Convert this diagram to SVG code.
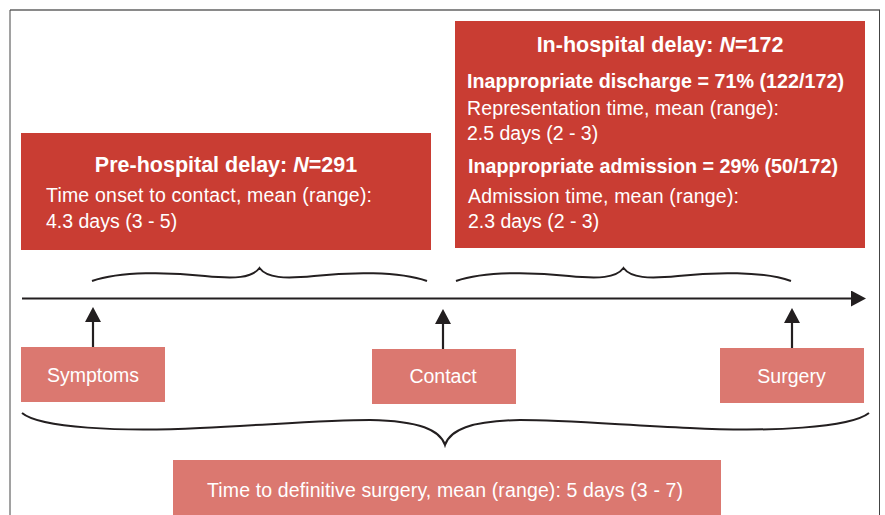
<svg xmlns="http://www.w3.org/2000/svg" width="885" height="515" viewBox="0 0 885 515">
  <defs>
    <style>
      .dark { fill: #C93D33; }
      .light { fill: #DB7870; }
      text { font-family: "Liberation Sans", Arial, sans-serif; fill: #ffffff; }
      .title { font-size: 21.5px; font-weight: bold; text-anchor: middle; }
      .sub { font-size: 19.7px; font-weight: bold; }
      .body { font-size: 19.5px; }
      .lbl { font-size: 19.5px; text-anchor: middle; }
      .brace { fill: none; stroke: #231F20; stroke-width: 2; }
      .line { stroke: #231F20; stroke-width: 2.2; fill: none; }
      .head { fill: #231F20; }
    </style>
    <marker id="arr" markerUnits="userSpaceOnUse" markerWidth="18" markerHeight="16" refX="0" refY="8" orient="auto">
      <path d="M0,0 L15,8 L0,16 Z" class="head"/>
    </marker>
  </defs>
  <rect x="0" y="0" width="885" height="515" fill="#ffffff"/>
  <g id="frame">
    <line x1="10" y1="10" x2="880" y2="10" stroke="#8a8a8a" stroke-width="2"/>
    <line x1="10" y1="10" x2="10" y2="515" stroke="#444" stroke-width="1"/>
    <line x1="879.5" y1="10" x2="879.5" y2="515" stroke="#444" stroke-width="1"/>
  </g>

  <g id="pre-hospital">
    <rect class="dark" x="21" y="133" width="410" height="117"/>
    <text class="title" x="226" y="171.5">Pre-hospital delay: <tspan font-style="italic">N</tspan>=291</text>
    <text class="body" x="46" y="202" textLength="326">Time onset to contact, mean (range):</text>
    <text class="body" x="46" y="228">4.3 days (3 - 5)</text>
  </g>

  <g id="in-hospital">
    <rect class="dark" x="455" y="21" width="410" height="227"/>
    <text class="title" x="660" y="51.5">In-hospital delay: <tspan font-style="italic">N</tspan>=172</text>
    <text class="sub" x="467" y="87.5" textLength="377">Inappropriate discharge = 71% (122/172)</text>
    <text class="body" x="467" y="115" textLength="312">Representation time, mean (range):</text>
    <text class="body" x="467" y="140">2.5 days (2 - 3)</text>
    <text class="sub" x="468" y="173" textLength="370">Inappropriate admission = 29% (50/172)</text>
    <text class="body" x="468" y="203" textLength="271">Admission time, mean (range):</text>
    <text class="body" x="468" y="228">2.3 days (2 - 3)</text>
  </g>

  <g id="symptoms">
    <rect class="light" x="21" y="347" width="144" height="55"/>
    <text class="lbl" x="93" y="382">Symptoms</text>
  </g>
  <g id="contact">
    <rect class="light" x="372" y="349" width="144" height="55"/>
    <text class="lbl" x="443" y="383">Contact</text>
  </g>
  <g id="surgery">
    <rect class="light" x="720" y="348" width="144" height="55"/>
    <text class="lbl" x="791.5" y="383">Surgery</text>
  </g>
  <g id="total">
    <rect class="light" x="173" y="460" width="548" height="60"/>
    <text class="lbl" x="445" y="497" textLength="476">Time to definitive surgery, mean (range): 5 days (3 - 7)</text>
  </g>

  <g id="connectors">
    <line class="line" x1="22" y1="298.5" x2="851" y2="298.5" marker-end="url(#arr)"/>
    <line class="line" x1="93" y1="347" x2="93" y2="322" marker-end="url(#arr)"/>
    <line class="line" x1="443" y1="349" x2="443" y2="324" marker-end="url(#arr)"/>
    <line class="line" x1="792" y1="348" x2="792" y2="323" marker-end="url(#arr)"/>
    <path class="brace" d="M92,281 C120,271 170,272 205,276 C235,279 252,278 259.5,268 C267,278 284,279 314,276 C349,272 399,271 427,281"/>
    <path class="brace" d="M456,281 C484,271 534,272 569,276 C599,279 616,278 623.5,268 C631,278 648,279 678,276 C713,272 763,271 791,281"/>
    <path class="brace" d="M22,413 C40,428 120,432 200,428 C280,424 330,420 370,420 C420,421 440,430 445,445 C450,430 470,421 520,420 C560,420 610,424 690,428 C770,432 850,428 869,413"/>
  </g>
</svg>
